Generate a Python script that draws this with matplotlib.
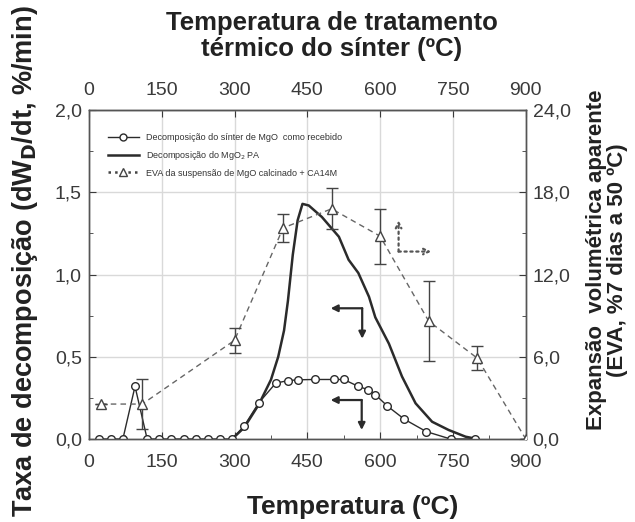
#!/usr/bin/env python3
import matplotlib
matplotlib.use("Agg")
import matplotlib.pyplot as plt
from matplotlib.lines import Line2D

# decomposição do sínter de MgO como recebido (círculos)
sinter_T = [20, 45, 70, 95, 120, 145, 170, 195, 220, 245, 270, 295,
            320, 350, 385, 410, 430, 465, 505, 525, 555, 575, 590, 615,
            650, 695, 745, 795]
sinter_v = [0, 0, 0, 0.32, 0, 0, 0, 0, 0, 0, 0, 0,
            0.08, 0.22, 0.34, 0.355, 0.36, 0.362, 0.362, 0.362, 0.32, 0.30, 0.27, 0.20,
            0.12, 0.045, 0, 0]

# decomposição do MgO2 PA (linha contínua)
pa_T = [295, 320, 350, 375, 390, 402, 410, 420, 430, 440, 453, 480, 515, 535,
        555, 577, 590, 618, 645, 673, 707, 741, 776, 800]
pa_v = [0, 0.07, 0.21, 0.36, 0.50, 0.66, 0.84, 1.12, 1.33, 1.43, 1.42, 1.35, 1.23, 1.09,
        1.01, 0.865, 0.74, 0.58, 0.38, 0.217, 0.105, 0.055, 0.014, 0]

# EVA da suspensão (triângulos, eixo direito)
eva_T = [25, 110, 300, 400, 500, 600, 700, 800, 900]
eva_v = [2.55, 2.55, 7.2, 15.4, 16.8, 14.8, 8.6, 5.9, 0]
eva_err = [0, 1.85, 0.9, 1.0, 1.5, 2.0, 2.9, 0.9, 0]

xticks = [0, 150, 300, 450, 600, 750, 900]
yticks = [0, 0.5, 1.0, 1.5, 2.0]
y2ticks = [0, 6, 12, 18, 24]

plt.rcParams['font.family'] = ['Liberation Sans', 'DejaVu Sans']

dark = '#2b2b2b'
tickc = '#3a3a3a'
labc = '#222222'

fig = plt.figure(figsize=(6.35, 5.22), dpi=100)
ax = fig.add_axes([0.140, 0.159, 0.688, 0.630])
ax2 = ax.twinx()

ax.set_xlim(0, 900)
ax.set_ylim(0, 2.0)
ax2.set_ylim(0, 24)

ax.set_xticks(xticks)
ax.set_xticks([75, 225, 375, 525, 675, 825], minor=True)
ax.set_yticks(yticks)
ax.set_yticks([0.25, 0.75, 1.25, 1.75], minor=True)
ax.set_yticklabels([f"{v:.1f}".replace('.', ',') for v in yticks])
ax2.set_yticks(y2ticks)
ax2.set_yticks([3, 9, 15, 21], minor=True)
ax2.set_yticklabels([f"{v:.1f}".replace('.', ',') for v in y2ticks])

ax.grid(True, which='major', color='#d9d9d9', linewidth=1.0)
ax.set_axisbelow(True)

for a in (ax, ax2):
    a.tick_params(which='both', direction='in', labelsize=14, colors=tickc, labelcolor=tickc)
    a.tick_params(which='major', length=5)
    a.tick_params(which='minor', length=3)
    for s in a.spines.values():
        s.set_color('#555555')
        s.set_linewidth(1.0)
ax.tick_params(axis='x', top=True, pad=11)
ax.tick_params(axis='y', pad=5)
ax2.tick_params(axis='y', pad=5)

top = ax.secondary_xaxis('top')
top.set_xticks(xticks)
top.tick_params(direction='in', length=0, labelsize=14, colors=tickc, pad=8)

ax.plot(sinter_T, sinter_v, '-o', color=dark, lw=1.0, ms=5.5, mfc='white', mec=dark, mew=1.0, zorder=4)
ax.plot(pa_T, pa_v, '-', color=dark, lw=1.8, zorder=3)

ax2.errorbar(eva_T, eva_v, yerr=eva_err, fmt='^', color='#555555', ms=7, mfc='white', mec='#444444',
             mew=1.0, ecolor='#444444', elinewidth=1.0, capsize=4, capthick=1.0, zorder=5)
ax2.plot(eva_T, eva_v, '--', color='#666666', lw=1.0, dashes=(4, 3), zorder=2)

# setas indicando os eixos
solid = dict(arrowstyle='-|>', color=dark, lw=1.6, mutation_scale=10, shrinkA=0, shrinkB=0)
for cx, cy, lx, dy in [(563, 0.795, 498, 0.61), (562, 0.237, 498, 0.055)]:
    ax.annotate('', xy=(lx, cy), xytext=(cx, cy), arrowprops=solid)
    ax.annotate('', xy=(cx, dy), xytext=(cx, cy), arrowprops=solid)

dotted = dict(arrowstyle='->', color='#555555', lw=1.6, linestyle=':', mutation_scale=10, shrinkA=0, shrinkB=0)
ax.annotate('', xy=(638, 1.33), xytext=(638, 1.14), arrowprops=dotted)
ax.annotate('', xy=(705, 1.14), xytext=(638, 1.14), arrowprops=dotted)

handles = [
    Line2D([], [], color=dark, lw=1.0, marker='o', ms=5, mfc='white', mec=dark),
    Line2D([], [], color=dark, lw=1.8),
    Line2D([], [], color='#444444', lw=1.8, ls=':', marker='^', ms=6, mfc='white', mec='#444444'),
]
labels = ['Decomposição do sínter de MgO  como recebido',
          'Decomposição do MgO$_2$ PA',
          'EVA da suspensão de MgO calcinado + CA14M']
ax.legend(handles, labels, loc='upper left', bbox_to_anchor=(0.025, 0.955), frameon=False,
          fontsize=6.5, handlelength=3.4, labelspacing=0.75, labelcolor='#333333')

# títulos dos eixos
fig.text(353 / 635, 1 - 507 / 522, 'Temperatura (ºC)', fontsize=19, fontweight='bold',
         color=labc, ha='center', va='center')
fig.text(332 / 635, 1 - 36 / 522, 'Temperatura de tratamento\ntérmico do sínter (ºC)', fontsize=18.5,
         fontweight='bold', color=labc, ha='center', va='center', linespacing=1.15)
fig.text(25 / 635, 1 - 261 / 522, 'Taxa de decomposição (dW$_\\mathbf{D}$/dt, %/min)', fontsize=19.5,
         fontweight='bold', color=labc, ha='center', va='center', rotation=90)
fig.text(607 / 635, 1 - 260 / 522, 'Expansão  volumétrica aparente\n(EVA, %7 dias a 50 ºC)', fontsize=16,
         fontweight='bold', color=labc, ha='center', va='center', rotation=90, linespacing=1.05)

fig.savefig('out.png', dpi=100)
